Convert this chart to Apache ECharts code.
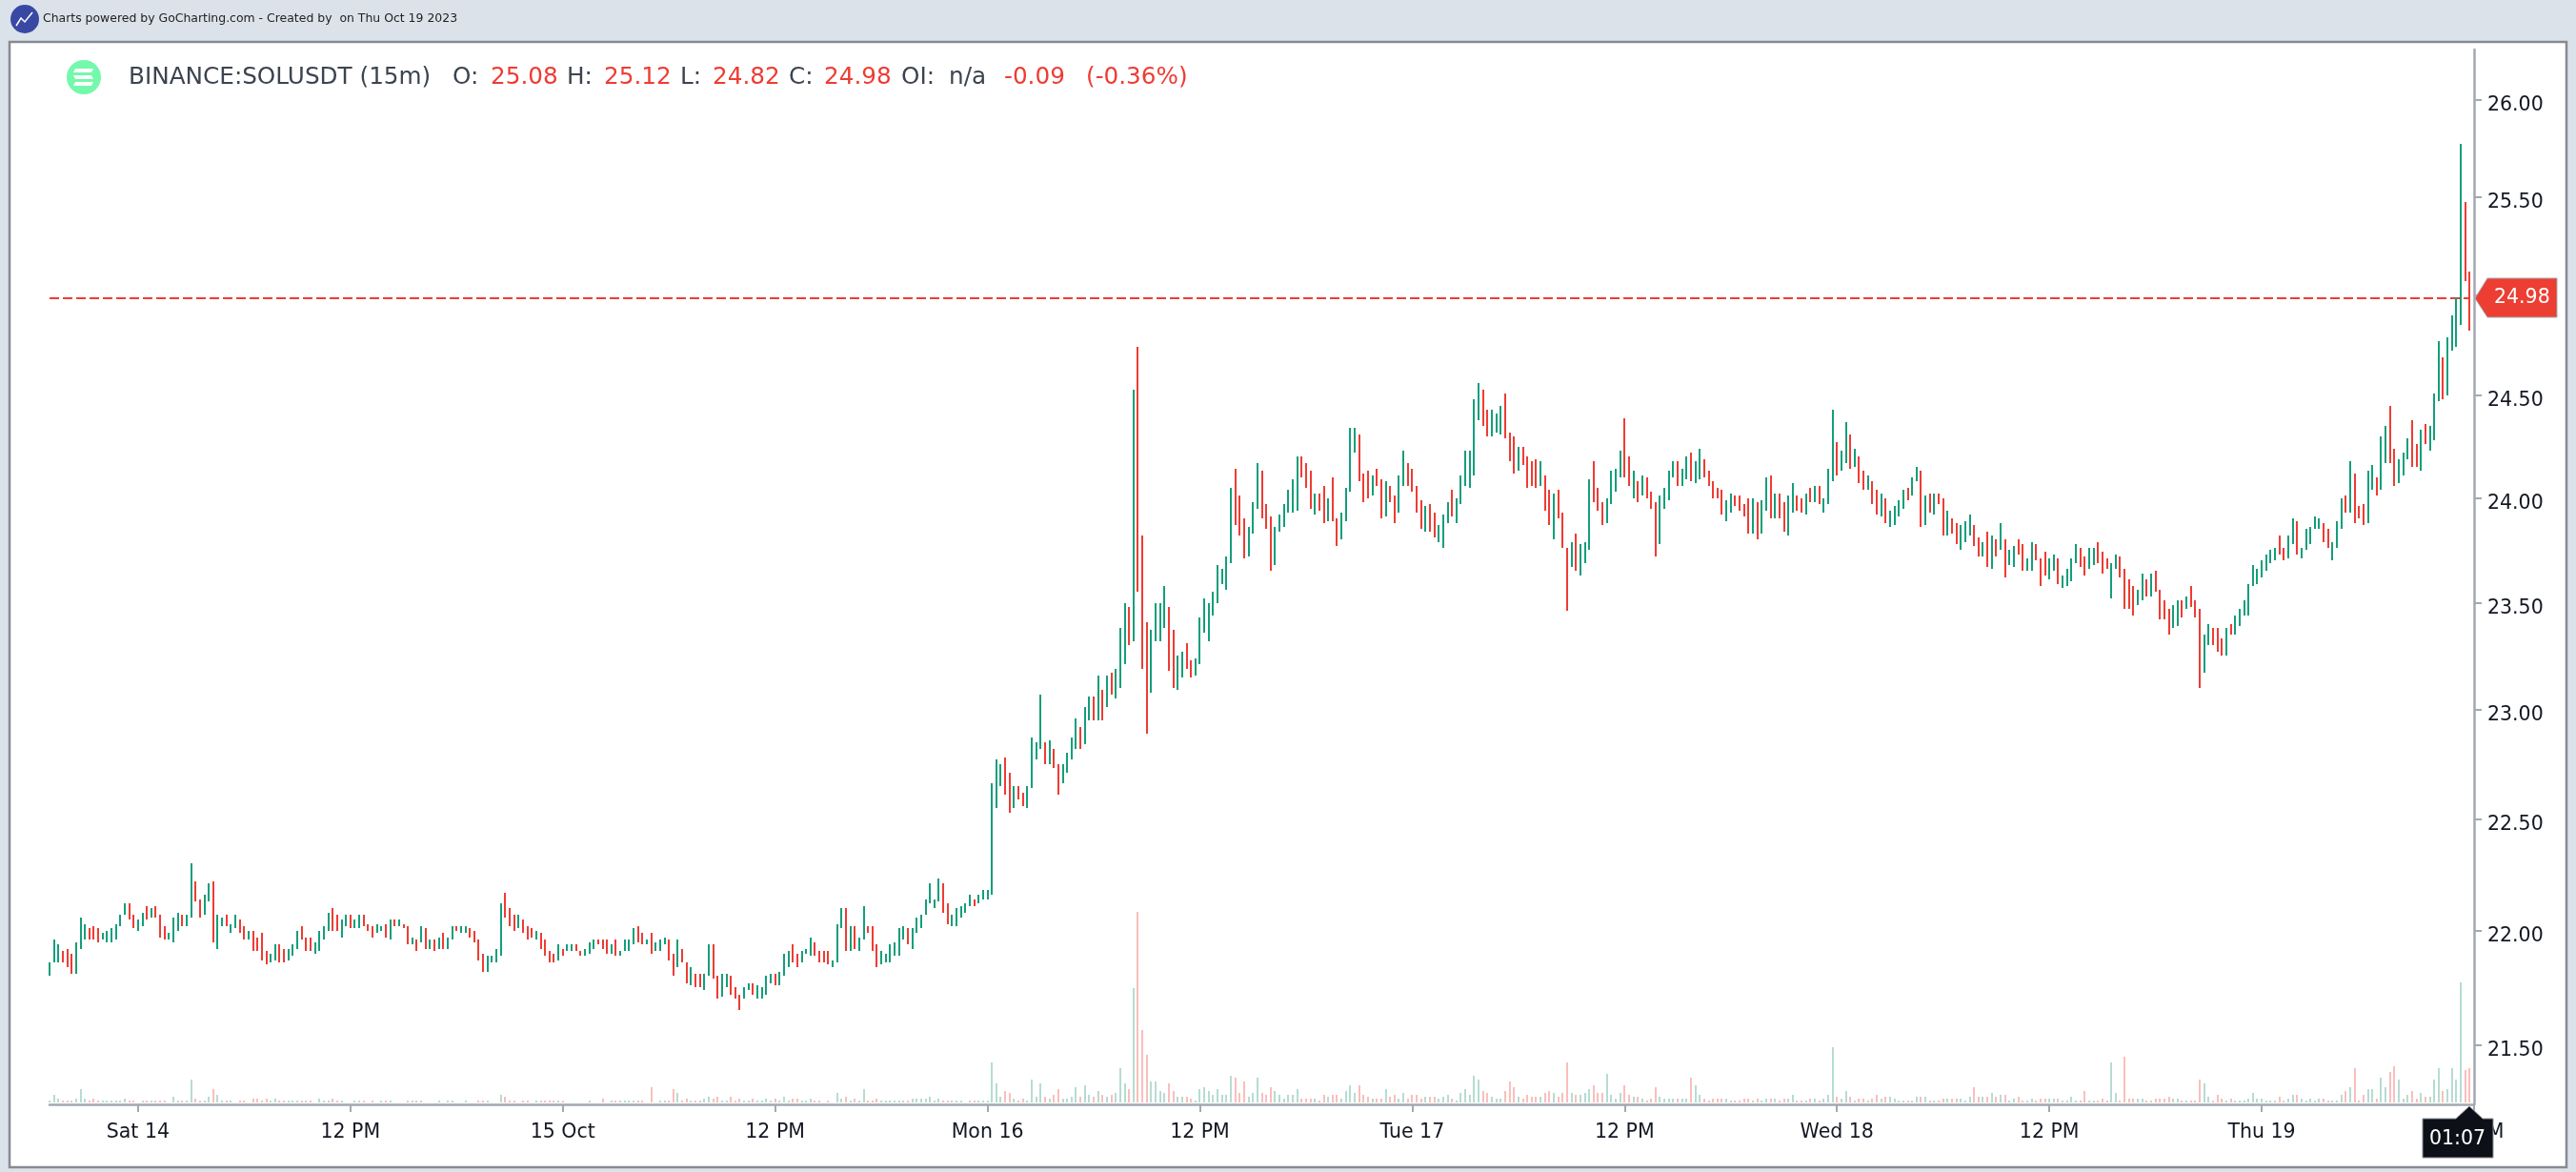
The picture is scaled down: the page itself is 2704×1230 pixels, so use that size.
<!DOCTYPE html>
<html><head><meta charset="utf-8">
<style>html,body{margin:0;padding:0;background:#dbe2ea}#c{width:2704px;height:1230px}</style>
<script src="https://cdn.jsdelivr.net/npm/echarts@6/dist/echarts.min.js"></script>
</head><body><div id="c"></div>
<script>
const highs=[
21.86,21.96,21.94,21.91,21.92,21.90,21.95,22.06,22.03,22.01,
22.02,22.01,21.99,22.00,22.01,22.03,22.07,22.12,22.12,22.07,
22.05,22.08,22.11,22.10,22.11,22.07,22.02,21.99,22.06,22.08,
22.07,22.07,22.30,22.22,22.14,22.16,22.21,22.22,22.07,22.06,
22.07,22.03,22.07,22.05,22.02,22.00,22.00,21.97,21.99,21.91,
21.90,21.94,21.94,21.92,21.92,21.94,22.00,22.02,21.97,21.97,
21.95,22.00,22.02,22.08,22.10,22.07,22.05,22.07,22.07,22.05,
22.07,22.07,22.03,22.02,22.03,22.02,22.03,22.05,22.05,22.05,
22.03,22.02,21.97,21.96,22.02,22.01,21.96,21.96,21.97,21.99,
21.97,22.02,22.02,22.02,22.02,22.01,22.00,21.96,21.90,21.89,
21.89,21.92,22.12,22.17,22.10,22.07,22.07,22.05,22.02,22.01,
22.00,21.99,21.96,21.91,21.90,21.94,21.92,21.94,21.94,21.94,
21.91,21.92,21.95,21.96,21.96,21.96,21.96,21.94,21.96,21.91,
21.96,21.96,22.01,22.02,21.99,21.96,21.99,21.95,21.96,21.97,
21.96,21.90,21.96,21.92,21.86,21.84,21.81,21.81,21.81,21.94,
21.94,21.80,21.81,21.81,21.80,21.75,21.72,21.75,21.77,21.77,
21.76,21.75,21.80,21.81,21.81,21.82,21.90,21.91,21.94,21.90,
21.91,21.92,21.97,21.95,21.91,21.91,21.91,21.87,22.03,22.10,
22.10,22.02,22.02,21.97,22.11,22.02,22.02,21.94,21.91,21.90,
21.94,21.95,22.01,22.02,22.01,22.01,22.06,22.07,22.14,22.21,
22.14,22.23,22.21,22.12,22.07,22.10,22.11,22.12,22.16,22.14,
22.16,22.18,22.18,22.66,22.77,22.75,22.78,22.71,22.65,22.65,
22.62,22.65,22.87,22.85,23.07,22.85,22.86,22.82,22.75,22.75,
22.80,22.87,22.96,22.92,23.01,23.06,23.06,23.16,23.09,23.16,
23.17,23.19,23.38,23.50,23.48,24.53,24.74,23.82,23.41,23.37,
23.50,23.50,23.58,23.48,23.37,23.25,23.27,23.31,23.23,23.24,
23.43,23.52,23.50,23.55,23.68,23.66,23.72,24.05,24.14,24.01,
23.90,23.86,23.98,24.17,24.13,23.97,23.91,23.86,23.92,23.97,
24.04,24.09,24.20,24.20,24.17,24.13,24.02,24.02,24.06,24.00,
24.10,23.90,23.93,24.05,24.34,24.34,24.31,24.12,24.13,24.11,
24.14,24.09,24.08,24.06,24.01,24.11,24.23,24.17,24.14,24.06,
23.99,23.96,23.97,23.93,23.87,23.92,23.98,24.04,24.00,24.11,
24.23,24.23,24.48,24.56,24.53,24.43,24.43,24.41,24.45,24.51,
24.32,24.30,24.25,24.25,24.20,24.18,24.19,24.18,24.11,24.04,
24.02,24.04,23.93,23.76,23.79,23.83,23.78,23.79,24.09,24.18,
24.05,23.98,24.00,24.13,24.14,24.23,24.39,24.20,24.13,24.08,
24.11,24.10,24.03,23.98,24.01,24.05,24.13,24.18,24.18,24.14,
24.20,24.22,24.18,24.24,24.19,24.13,24.08,24.05,24.04,23.99,
24.02,24.01,24.01,23.97,24.00,24.00,23.98,23.99,24.10,24.11,
24.02,24.02,23.98,24.01,24.07,24.01,24.00,24.02,24.05,24.06,
24.06,24.00,24.14,24.43,24.27,24.23,24.37,24.31,24.24,24.20,
24.13,24.11,24.08,24.04,24.02,24.00,23.94,23.96,23.99,24.04,
24.05,24.10,24.15,24.13,24.01,24.02,24.02,24.02,24.00,23.94,
23.90,23.88,23.87,23.89,23.92,23.87,23.81,23.79,23.84,23.82,
23.80,23.88,23.80,23.75,23.77,23.80,23.78,23.71,23.79,23.78,
23.71,23.74,23.71,23.73,23.71,23.63,23.66,23.71,23.78,23.76,
23.72,23.76,23.76,23.79,23.74,23.71,23.69,23.73,23.72,23.66,
23.61,23.58,23.56,23.64,23.61,23.64,23.65,23.56,23.51,23.47,
23.49,23.51,23.51,23.53,23.58,23.51,23.47,23.35,23.40,23.38,
23.38,23.33,23.38,23.40,23.44,23.47,23.51,23.59,23.68,23.66,
23.70,23.73,23.75,23.76,23.82,23.76,23.82,23.90,23.89,23.76,
23.85,23.86,23.91,23.90,23.88,23.85,23.79,23.89,24.00,24.01,
24.18,24.12,23.96,23.97,24.13,24.16,24.10,24.30,24.35,24.45,
24.24,24.19,24.22,24.29,24.38,24.26,24.33,24.36,24.35,24.51,
24.77,24.69,24.79,24.90,24.99,25.77,25.47,25.12];
const lows=[
21.80,21.86,21.86,21.86,21.84,21.81,21.81,21.92,21.96,21.96,
21.96,21.95,21.96,21.95,21.95,21.96,22.02,22.07,22.05,22.01,
22.00,22.02,22.05,22.06,22.06,21.97,21.96,21.96,21.95,22.00,
22.02,22.02,22.06,22.13,22.06,22.07,22.13,21.95,21.92,22.02,
22.02,21.99,22.01,21.99,21.96,21.96,21.91,21.91,21.87,21.85,
21.86,21.87,21.86,21.86,21.87,21.89,21.92,21.96,21.91,21.91,
21.90,21.91,21.96,22.00,22.00,22.00,21.97,22.02,22.01,22.01,
22.01,22.02,22.00,21.97,21.99,22.00,21.97,21.96,22.02,22.02,
22.01,21.94,21.94,21.91,21.95,21.92,21.92,21.91,21.92,21.92,
21.92,21.96,22.00,21.99,21.99,21.97,21.95,21.87,21.82,21.82,
21.86,21.86,21.89,22.06,22.02,22.00,22.01,21.99,21.96,21.97,
21.96,21.92,21.89,21.86,21.86,21.87,21.89,21.91,21.91,21.91,
21.89,21.89,21.90,21.92,21.94,21.92,21.90,21.90,21.89,21.89,
21.91,21.91,21.94,21.95,21.94,21.94,21.90,21.91,21.91,21.94,
21.87,21.80,21.84,21.86,21.77,21.76,21.75,21.75,21.74,21.80,
21.79,21.70,21.71,21.75,21.72,21.70,21.65,21.70,21.74,21.72,
21.70,21.70,21.72,21.77,21.76,21.76,21.80,21.84,21.86,21.84,
21.86,21.90,21.89,21.89,21.86,21.86,21.85,21.84,21.86,22.01,
21.91,21.91,21.92,21.91,21.96,21.99,21.91,21.84,21.85,21.86,
21.86,21.89,21.89,21.96,21.94,21.92,21.99,22.01,22.07,22.12,
22.10,22.13,22.08,22.03,22.02,22.02,22.06,22.08,22.11,22.11,
22.12,22.14,22.14,22.16,22.55,22.65,22.61,22.53,22.55,22.59,
22.56,22.55,22.64,22.77,22.82,22.75,22.75,22.73,22.61,22.66,
22.71,22.77,22.82,22.82,22.84,22.95,22.95,22.95,22.95,23.01,
23.07,23.05,23.10,23.21,23.30,23.32,23.55,23.19,22.89,23.08,
23.32,23.32,23.38,23.18,23.10,23.09,23.15,23.19,23.15,23.16,
23.21,23.36,23.32,23.44,23.50,23.59,23.56,23.69,23.87,23.82,
23.71,23.72,23.83,23.95,23.90,23.85,23.65,23.68,23.84,23.86,
23.93,23.93,23.94,24.10,24.05,23.95,23.92,23.94,23.88,23.89,
23.89,23.77,23.80,23.89,24.03,24.22,24.08,23.98,24.00,24.01,
24.06,23.90,23.91,23.98,23.88,23.93,24.06,24.06,24.03,23.93,
23.85,23.84,23.84,23.81,23.79,23.76,23.88,23.91,23.88,23.97,
24.06,24.05,24.11,24.38,24.35,24.30,24.30,24.32,24.31,24.29,
24.18,24.12,24.13,24.16,24.05,24.06,24.05,24.06,23.94,23.87,
23.80,23.90,23.76,23.46,23.67,23.65,23.63,23.69,23.75,23.98,
23.94,23.87,23.88,23.97,24.03,24.10,24.10,24.06,24.00,23.98,
24.01,24.00,23.95,23.72,23.78,23.95,23.99,24.10,24.06,24.06,
24.09,24.08,24.07,24.09,24.10,24.06,24.00,24.00,23.92,23.89,
23.93,23.96,23.94,23.91,23.83,23.83,23.80,23.83,23.94,23.90,
23.90,23.90,23.84,23.82,23.93,23.94,23.93,23.92,23.98,23.98,
23.97,23.93,23.97,24.08,24.11,24.13,24.17,24.14,24.15,24.07,
24.04,24.04,23.97,23.92,23.91,23.88,23.86,23.87,23.91,23.95,
23.99,24.01,24.08,23.86,23.87,23.93,23.92,23.97,23.82,23.82,
23.83,23.78,23.75,23.79,23.82,23.77,23.72,23.72,23.67,23.66,
23.72,23.75,23.62,23.68,23.67,23.73,23.65,23.65,23.65,23.70,
23.58,23.63,23.61,23.65,23.59,23.57,23.58,23.60,23.69,23.67,
23.63,23.66,23.68,23.69,23.64,23.66,23.52,23.66,23.62,23.47,
23.47,23.44,23.49,23.51,23.53,23.53,23.55,23.42,23.42,23.35,
23.38,23.39,23.43,23.47,23.48,23.43,23.10,23.17,23.30,23.30,
23.27,23.25,23.25,23.35,23.35,23.39,23.44,23.44,23.58,23.59,
23.62,23.65,23.69,23.70,23.73,23.70,23.71,23.78,23.73,23.71,
23.75,23.78,23.85,23.85,23.79,23.76,23.70,23.76,23.85,23.93,
23.93,23.88,23.90,23.87,23.88,24.04,24.01,24.04,24.17,24.17,
24.06,24.07,24.11,24.19,24.15,24.15,24.13,24.26,24.23,24.28,
24.47,24.48,24.50,24.72,24.74,24.85,25.07,24.82];
const directions=`
u u u d d d u u u d
d d u u u u u u d d
u u d u d d d u u u
d u u d d u u d u u
d u u d d u d d d d
u u d d u u u d d d
u u u u d d u u d u
u d d d u u d u d u
d d u d u d u d u d
u u d u u d d d d u
u u u d d d u d d d
u d d d d u d u u d
d u u u d d d u d u
u u u d d u d u u u
d d u d d u d d u u
d d u u d d d u u d
u u u u d u u u d d
u u u d d d d u u u
d u d u u d d d u u
u u u u d u u u u u
u u d d u u u u u d
u u u u u u d d u d
d u u u u d u d d u
u u u d u u d u d u
d u u u d u d d d u
u u u d d u u d d u
u u u u u u u u d d
d u u u d d d u u u
u u u d d d u d d u
d d u u u u d d d u
d d u d d u u d d d
d u d d u u u d u u
u u u u d d u u u d
d d u d d d d u d d
u d d d u d u u u d
d d u u u u d d u d
u d d d u u u u d u
u d u u d d d d d u
u d d d d u d u u d
u d d u u d d u d u
d u u u d u u d u d
d u d d u d u u u u
d u u d u d u d d u
d d u u u d d u d u
d u d u u d d u u d
d d u u d u u u u d
d u u d d d u u d d
d d u u d u d d d d
u u d u d d d u u d
d d u d u u u u u u
u u u u d d u u d u
u u u u d d u u u d
u d d d u u d u u d
d u u u d d u d u u
u d u u u u d d`.trim().split(/\s+/);
const volumes=[
1,4,2,1,1,1,2,7,2,1, 2,1,1,1,1,1,1,2,1,1, 0,1,1,1,1,1,1,0,3,1, 1,1,12,2,1,1,3,7,4,1,
1,1,0,1,1,0,2,2,1,2, 1,2,1,1,1,1,1,1,1,1, 0,2,1,1,2,1,1,0,0,1, 1,1,0,1,0,1,1,1,0,0,
0,1,1,1,1,0,0,0,1,0, 1,1,0,0,1,0,0,1,1,1, 0,0,4,3,1,1,0,1,1,0, 1,1,1,1,1,1,1,0,0,0,
0,0,1,0,0,2,0,1,1,1, 1,1,1,1,1,0,8,0,1,1, 1,7,5,1,2,1,1,1,2,3, 2,3,1,1,3,1,2,1,1,2,
1,1,2,1,2,1,3,1,2,2, 1,1,2,1,1,0,1,0,5,2, 3,1,2,1,7,1,1,2,1,1, 1,1,1,1,1,2,2,2,2,3,
1,2,1,1,1,1,1,0,1,1, 1,1,1,21,10,3,6,5,2,1, 2,1,12,3,10,3,2,4,7,2, 2,3,8,3,9,4,3,6,4,3,
4,5,18,10,7,60,100,38,25,11, 11,6,5,10,6,3,3,3,2,1, 7,8,6,4,7,4,4,14,13,5, 11,3,5,13,5,4,8,6,4,2,
4,4,7,2,2,2,2,1,4,3, 4,4,2,6,9,5,9,4,3,2, 2,2,7,3,4,2,5,2,4,4, 2,3,3,3,2,3,4,2,1,5,
7,4,14,12,6,5,3,2,2,6, 11,8,3,2,4,3,3,3,5,6, 5,3,5,21,5,4,4,5,7,9, 5,5,15,4,2,5,9,4,3,3,
2,1,2,8,3,2,2,2,2,2, 2,13,9,4,2,1,2,2,2,2, 1,1,1,2,2,1,2,1,2,2, 2,1,2,2,4,1,1,1,2,2,
1,2,4,29,3,2,6,3,1,2, 2,1,2,4,2,3,3,2,1,1, 1,1,3,3,3,1,1,1,2,2, 2,2,2,1,3,8,3,3,3,5,
3,4,4,1,2,3,1,1,2,1, 2,2,2,2,2,1,1,3,1,1, 6,1,1,1,2,1,21,5,1,24, 2,2,2,2,1,1,2,2,2,3,
2,2,1,1,1,1,12,10,3,1, 4,2,1,2,1,1,1,2,5,2, 2,1,1,1,3,1,2,4,4,2, 1,2,1,2,2,1,1,1,4,6,
8,18,1,4,7,7,2,13,8,16, 19,12,2,4,6,2,5,3,3,12, 18,6,7,18,12,63,17,18];
const timeTickIndex=[20,68,116,164,212,260,308,356,404,452,500,548];
const timeTickLabels=['Sat 14','12 PM','15 Oct','12 PM','Mon 16','12 PM','Tue 17','12 PM','Wed 18','12 PM','Thu 19','12 PM'];
const priceTicks=[21.5,22,22.5,23,23.5,24,24.5,25,25.5,26];
const lastPrice=24.98;
const quote=['25.08','25.12','24.82','24.98'];

if(highs.length!==548||lows.length!==548||directions.length!==548||volumes.length!==548)
  throw new Error('len '+highs.length+' '+lows.length+' '+directions.length+' '+volumes.length);

const UP='#149e7b',DOWN='#ee3c34',UPV='#b6dcd2',DOWNV='#f9bfbc',AX='#a2a9b0',TXT='#131722';
const categories=Array.from({length:549},(_,i)=>{const k=timeTickIndex.indexOf(i);return k>=0?timeTickLabels[k]:''+i;});
const isTick=i=>timeTickIndex.indexOf(i)>=0;
const priceData=highs.map((h,i)=>[i,lows[i],h]);
const volData=volumes.map((v,i)=>[i,v]);

const chart=echarts.init(document.getElementById('c'),null,{renderer:'canvas',width:2704,height:1230});
const font='"DejaVu Sans"';
const txt=(x,y,s,fill,size,z)=>({type:'text',x,y,z:z||50,style:{text:s,fill,font:`${size||24.7}px ${font}`,textAlign:'left',textVerticalAlign:'middle'}});
const G='#3c4450',R='#ee3c34';
const renderCandle=(params,api)=>{
  const i=api.value(0);
  const a=api.coord([i,api.value(1)]),b=api.coord([i,api.value(2)]);
  const yt=Math.round(b[1]),yb=Math.round(a[1]);
  return {type:'rect',shape:{x:Math.round(a[0])-1,y:yt,width:2,height:Math.max(2,yb-yt)},
    style:{fill:directions[params.dataIndex]==='u'?UP:DOWN}};
};
const renderVolume=(params,api)=>{
  const i=api.value(0),v=api.value(1);
  if(!v) return null;
  const a=api.coord([i,0]),b=api.coord([i,v]);
  const yt=Math.round(b[1]),yb=Math.round(a[1]);
  return {type:'rect',shape:{x:Math.round(a[0])-1,y:yt,width:2,height:yb-yt},
    style:{fill:directions[params.dataIndex]==='u'?UPV:DOWNV}};
};
const option={
  animation:false,
  backgroundColor:'#dbe2ea',
  grid:[
    {left:52,top:52,width:2545,height:1107},
    {left:52,top:957,width:2545,height:200}
  ],
  xAxis:[
    {type:'category',gridIndex:0,data:categories,boundaryGap:false,position:'bottom',
     axisLine:{show:true,lineStyle:{color:AX,width:2.5},onZero:false},
     axisTick:{show:true,interval:(i)=>isTick(i),length:8,lineStyle:{color:AX,width:2}},
     axisLabel:{interval:(i)=>isTick(i),color:TXT,fontFamily:font,fontSize:20.5,margin:19,showMaxLabel:true,hideOverlap:false},
     splitLine:{show:false}},
    {type:'category',gridIndex:1,data:categories,boundaryGap:false,show:false}
  ],
  yAxis:[
    {type:'log',logBase:10,gridIndex:0,position:'right',min:21.245,max:26.265,
     axisLine:{show:true,lineStyle:{color:AX,width:2.5}},
     axisTick:{show:true,length:8,lineStyle:{color:AX,width:2},customValues:priceTicks},
     axisLabel:{color:TXT,fontFamily:font,fontSize:20.5,margin:14,customValues:priceTicks,
       verticalAlign:'top',lineHeight:12,formatter:v=>Number(v).toFixed(2)},
     minorTick:{show:false},splitLine:{show:false}},
    {type:'value',gridIndex:1,min:0,max:100,show:false}
  ],
  series:[
    {type:'custom',name:'Volume',xAxisIndex:1,yAxisIndex:1,data:volData,encode:{x:0,y:1},renderItem:renderVolume,z:1,silent:true},
    {type:'custom',name:'SOLUSDT',xAxisIndex:0,yAxisIndex:0,data:priceData,encode:{x:0,y:[1,2]},renderItem:renderCandle,z:3,silent:true}
  ],
  graphic:[]
};
chart.setOption(option);

const ly=Math.floor(chart.convertToPixel({yAxisIndex:0},lastPrice));
const lineStart=chart.convertToPixel({xAxisIndex:0},0),lineEnd=chart.convertToPixel({xAxisIndex:0},547);
chart.setOption({graphic:[
  {type:'rect',z:-10,shape:{x:10,y:44,width:2684,height:1181},style:{fill:'#ffffff',stroke:'#868a94',lineWidth:2.5}},
  {type:'line',z:2,shape:{x1:lineStart,y1:ly,x2:lineEnd,y2:ly},style:{stroke:DOWN,lineWidth:2,lineDash:[10,4]}},
  {type:'circle',z:50,shape:{cx:26,cy:20,r:15},style:{fill:'#3949a3'}},
  {type:'polyline',z:51,shape:{points:[[17,27],[22,19],[26,23],[34,13]]},style:{stroke:'#fff',fill:null,lineWidth:1.5}},
  txt(45,20,'Charts powered by GoCharting.com - Created by  on Thu Oct 19 2023','#222',12.45),
  {type:'circle',z:50,shape:{cx:88,cy:81,r:18},style:{fill:'#74f8ac'}},
  {type:'polygon',z:51,shape:{points:[[79,72],[98,72],[96,76],[77,76]]},style:{fill:'#fff'}},
  {type:'polygon',z:51,shape:{points:[[77,79],[96,79],[98,83],[79,83]]},style:{fill:'#fff'}},
  {type:'polygon',z:51,shape:{points:[[79,86],[98,86],[96,90],[77,90]]},style:{fill:'#fff'}},
  txt(135,82,'BINANCE:SOLUSDT (15m)',G),
  txt(475,82,'O:',G),txt(515,82,quote[0],R),
  txt(595,82,'H:',G),txt(634,82,quote[1],R),
  txt(714,82,'L:',G),txt(748,82,quote[2],R),
  txt(828,82,'C:',G),txt(865,82,quote[3],R),
  txt(946,82,'OI:',G),txt(996,82,'n/a',G),
  txt(1054,82,'-0.09',R),txt(1140,82,'(-0.36%)',R),
  {type:'polygon',z:60,shape:{points:[[2598,ly],[2611,ly-21],[2684,ly-21],[2684,ly+20],[2611,ly+20]]},style:{fill:'#ec3e32',stroke:'#a2a9b0',lineWidth:1}},
  txt(2618,ly,'24.98','#fff',20.5,61),
  {type:'polygon',z:60,shape:{points:[[2592,1161],[2606,1174],[2617,1174],[2617,1215],[2543,1215],[2543,1174],[2578,1174]]},style:{fill:'#0d1117',stroke:'#8f949b',lineWidth:1}},
  txt(2550,1196,'01:07','#fff',20.5,61)
]});
</script>
</body></html>
